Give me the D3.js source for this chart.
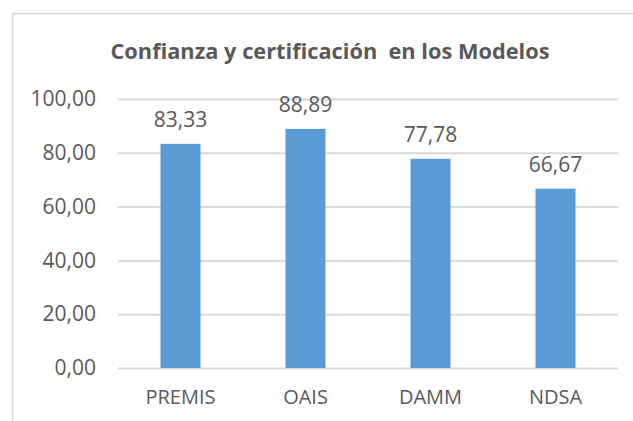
<!DOCTYPE html>
<html>
<head>
<meta charset="utf-8">
<script src="https://cdn.jsdelivr.net/npm/d3@7"></script>
<style>
  body { margin: 0; background: #fff; }
  text { font-family: "Open Sans", "Noto Sans", sans-serif; fill: #595959; }
</style>
</head>
<body>
<div id="chart"></div>
<script>
// data
var modelos = ["PREMIS", "OAIS", "DAMM", "NDSA"];
var valores = [83.33, 88.89, 77.78, 66.67];
var yTicks = [0, 20, 40, 60, 80, 100];
var titulo = "Confianza y certificación  en los Modelos";

var W = 633, H = 421;
var margin = {top: 99, right: 15, bottom: 53, left: 118},
    width = W - margin.left - margin.right,
    height = H - margin.top - margin.bottom;

var fmt = function(v) { return d3.format(".2f")(v).replace(".", ","); };

var svg = d3.select("#chart")
  .append("svg")
    .attr("width", W)
    .attr("height", H);

// chart frame
svg.append("rect")
    .attr("x", 12.5)
    .attr("y", 13.5)
    .attr("width", W + 10)
    .attr("height", H + 10)
    .attr("fill", "none")
    .attr("stroke", "#d9d9d9")
    .attr("stroke-width", 1.5);

// title
svg.append("text")
    .attr("x", 330)
    .attr("y", 59)
    .attr("text-anchor", "middle")
    .attr("textLength", 439)
    .attr("lengthAdjust", "spacingAndGlyphs")
    .style("white-space", "pre")
    .style("font-size", "22px")
    .style("font-weight", "bold")
    .text(titulo);

var g = svg.append("g")
    .attr("transform", "translate(" + margin.left + "," + margin.top + ")");

var x = d3.scaleBand()
    .domain(modelos)
    .range([0, width])
    .paddingInner(0.68)
    .paddingOuter(0.34);

var y = d3.scaleLinear()
    .domain([0, 100])
    .range([height, 0]);

// gridlines + y labels
var yAxis = g.append("g")
    .call(d3.axisLeft(y).tickValues(yTicks).tickSize(-width).tickFormat(fmt).tickPadding(22));
yAxis.select(".domain").remove();
yAxis.selectAll(".tick line")
    .attr("stroke", "#d9d9d9")
    .attr("stroke-width", 2);
yAxis.selectAll(".tick text")
    .style("font-size", "21px")
    .attr("fill", "#595959");

// bars
g.selectAll(".bar")
  .data(valores)
  .enter()
  .append("rect")
    .attr("class", "bar")
    .attr("x", function(d, i) { return x(modelos[i]); })
    .attr("y", function(d) { return y(d); })
    .attr("width", x.bandwidth())
    .attr("height", function(d) { return height - y(d); })
    .attr("fill", "#5b9bd5");

// value labels
g.selectAll(".lbl")
  .data(valores)
  .enter()
  .append("text")
    .attr("class", "lbl")
    .attr("x", function(d, i) { return x(modelos[i]) + x.bandwidth() / 2; })
    .attr("y", function(d) { return y(d) - 17; })
    .attr("text-anchor", "middle")
    .style("font-size", "21px")
    .text(fmt);

// x axis labels
var xAxis = g.append("g")
    .attr("transform", "translate(0," + height + ")")
    .call(d3.axisBottom(x).tickSize(0).tickPadding(22));
xAxis.select(".domain").remove();
xAxis.selectAll(".tick text")
    .style("font-size", "20px")
    .attr("fill", "#595959");
</script>
</body>
</html>
